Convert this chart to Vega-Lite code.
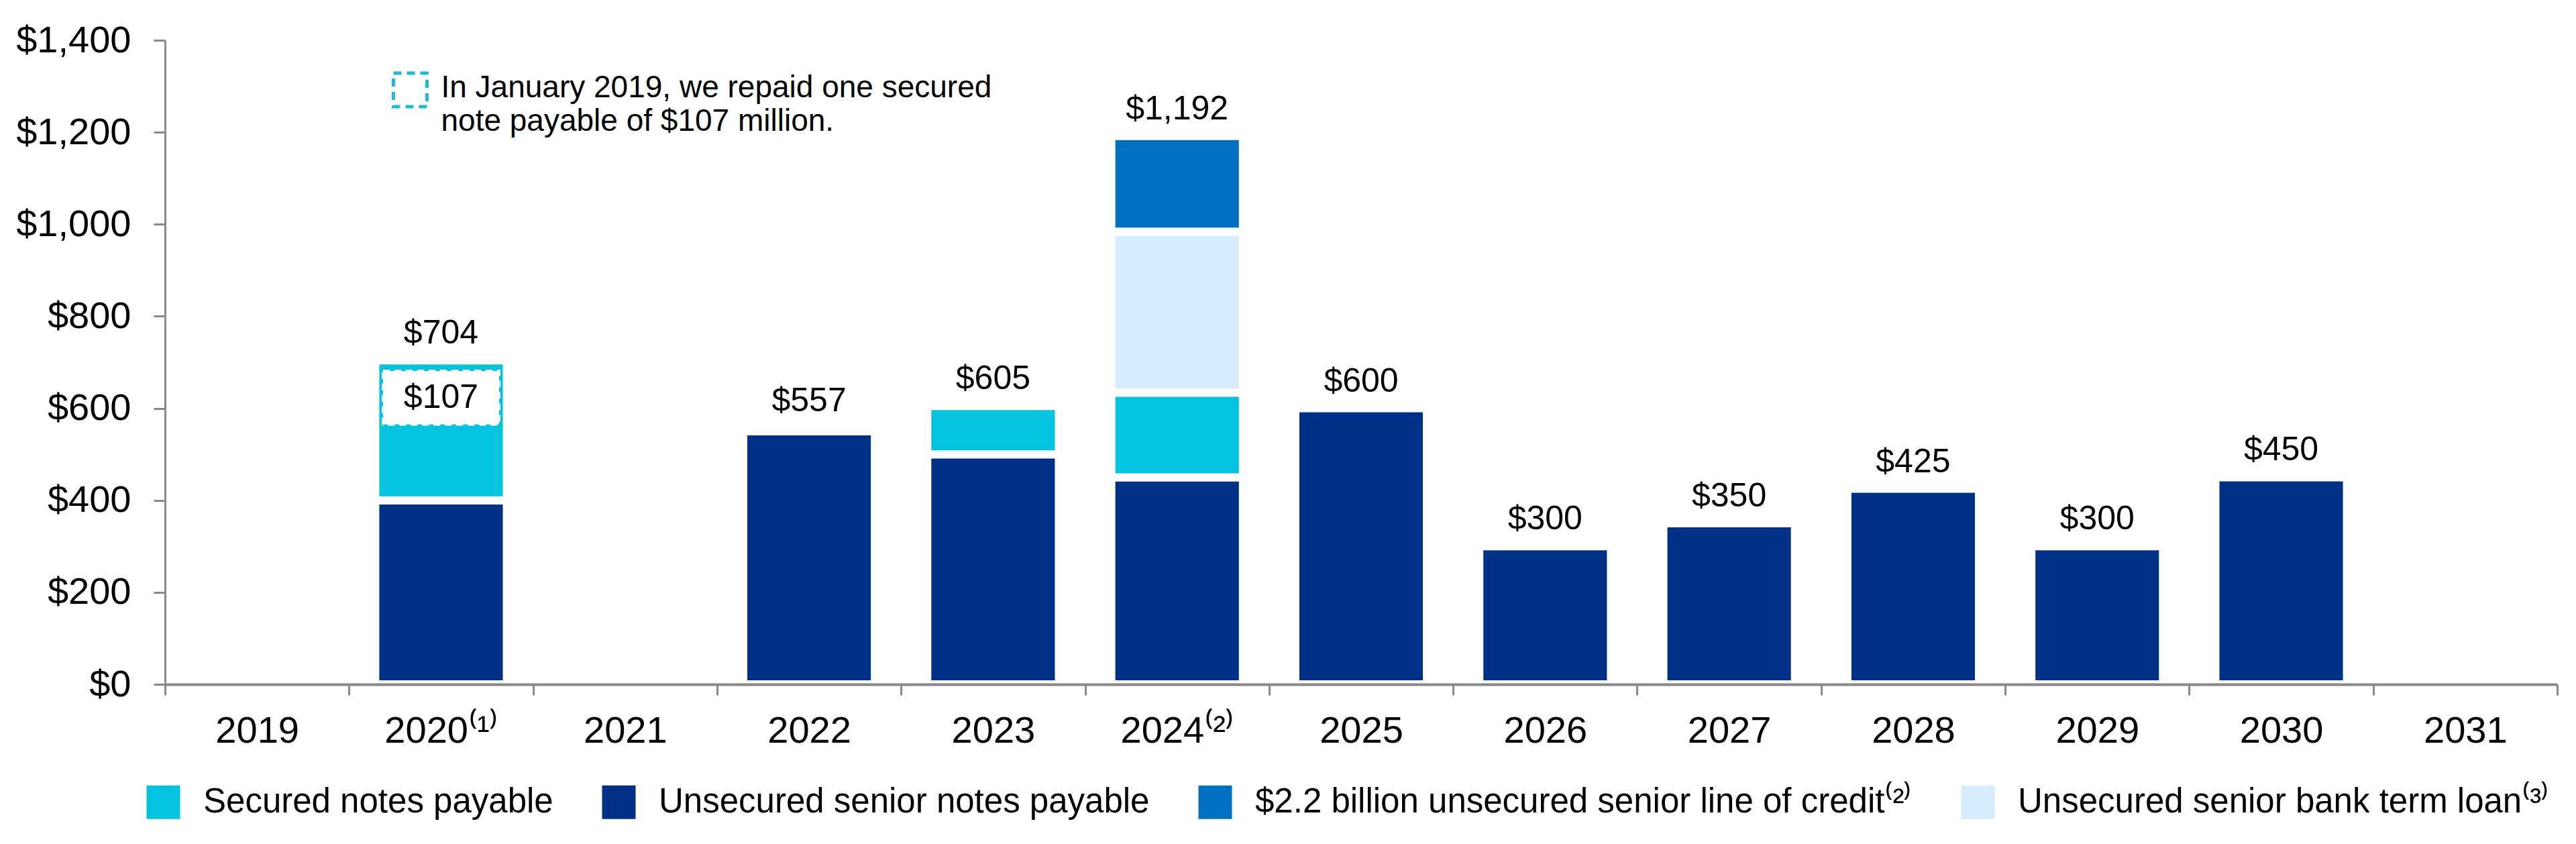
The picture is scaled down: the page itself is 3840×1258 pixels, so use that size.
{
  "$schema": "https://vega.github.io/schema/vega-lite/v6.json",
  "width": 3566,
  "height": 960,
  "autosize": {"type": "none"},
  "padding": {"left": 246, "top": 60, "right": 28, "bottom": 238},
  "background": "white",
  "config": {
    "view": {"stroke": null},
    "font": "Liberation Sans",
    "text": {"font": "Liberation Sans", "color": "#000000"},
    "axis": {"labelFont": "Liberation Sans", "labelColor": "#000000", "grid": false}
  },
  "datasets": {
    "debt": [
      {"year": "2020", "type": "Unsecured senior notes payable", "amount": 400},
      {"year": "2020", "type": "Secured notes payable", "amount": 304},
      {"year": "2022", "type": "Unsecured senior notes payable", "amount": 550},
      {"year": "2022", "type": "Secured notes payable", "amount": 7},
      {"year": "2023", "type": "Unsecured senior notes payable", "amount": 500},
      {"year": "2023", "type": "Secured notes payable", "amount": 105},
      {"year": "2024", "type": "Unsecured senior notes payable", "amount": 450},
      {"year": "2024", "type": "Secured notes payable", "amount": 184},
      {"year": "2024", "type": "Unsecured senior bank term loan", "amount": 350},
      {"year": "2024", "type": "$2.2 billion unsecured senior line of credit", "amount": 208},
      {"year": "2025", "type": "Unsecured senior notes payable", "amount": 600},
      {"year": "2026", "type": "Unsecured senior notes payable", "amount": 300},
      {"year": "2027", "type": "Unsecured senior notes payable", "amount": 350},
      {"year": "2028", "type": "Unsecured senior notes payable", "amount": 425},
      {"year": "2029", "type": "Unsecured senior notes payable", "amount": 300},
      {"year": "2030", "type": "Unsecured senior notes payable", "amount": 450}
    ],
    "callout": [
      {"year": "2020", "lo": 565, "hi": 681, "mid": 623, "label": "$107"}
    ]
  },
  "data": {"name": "debt"},
  "encoding": {
    "x": {
      "field": "year",
      "type": "nominal",
      "title": null,
      "scale": {
        "domain": ["2019", "2020", "2021", "2022", "2023", "2024", "2025", "2026", "2027", "2028", "2029", "2030", "2031"],
        "paddingInner": 0,
        "paddingOuter": 0
      },
      "axis": {
        "labelAngle": 0,
        "labelFontSize": 56,
        "labelPadding": 26,
        "labelExpr": "datum.label == '2020' ? '\u00a0\u00a0\u20092020⁽¹⁾' : datum.label == '2024' ? '\u00a0\u00a0\u20092024⁽²⁾' : datum.label",
        "tickBand": "extent",
        "tickSize": 16,
        "tickWidth": 3,
        "tickColor": "#898989",
        "domainColor": "#898989",
        "domainWidth": 4,
        "zindex": 1
      }
    }
  },
  "layer": [
    {
      "transform": [
        {"calculate": "indexof(['Unsecured senior notes payable','Secured notes payable','Unsecured senior bank term loan','$2.2 billion unsecured senior line of credit'], datum.type)", "as": "stackIndex"}
      ],
      "mark": {"type": "bar", "width": {"band": 0.715}, "stroke": "white", "strokeWidth": 12},
      "encoding": {
        "y": {
          "field": "amount",
          "type": "quantitative",
          "stack": "zero",
          "title": null,
          "scale": {"domain": [0, 1400], "nice": false},
          "axis": {
            "values": [0, 200, 400, 600, 800, 1000, 1200, 1400],
            "format": "$,.0f",
            "labelFontSize": 56,
            "labelPadding": 34,
            "tickSize": 17,
            "tickWidth": 3,
            "tickColor": "#898989",
            "domainColor": "#898989",
            "domainWidth": 3,
            "grid": false
          }
        },
        "color": {
          "field": "type",
          "type": "nominal",
          "scale": {
            "domain": ["Secured notes payable", "Unsecured senior notes payable", "$2.2 billion unsecured senior line of credit", "Unsecured senior bank term loan"],
            "range": ["#05C3DE", "#003087", "#0070C0", "#D6EBFB"]
          },
          "legend": {
            "title": null,
            "orient": "none",
            "legendX": -28,
            "legendY": 1110,
            "direction": "horizontal",
            "symbolType": "square",
            "symbolSize": 2500,
            "symbolStrokeWidth": 0,
            "labelFontSize": 51,
            "labelFont": "Liberation Sans",
            "labelColor": "#000000",
            "labelLimit": 3000,
            "labelOffset": 34,
            "columnPadding": 72,
            "labelExpr": "datum.label == '$2.2 billion unsecured senior line of credit' ? datum.label + '⁽²⁾' : datum.label == 'Unsecured senior bank term loan' ? datum.label + '⁽³⁾' : datum.label"
          }
        },
        "order": {"field": "stackIndex", "type": "quantitative", "sort": "ascending"}
      }
    },
    {
      "transform": [
        {"aggregate": [{"op": "sum", "field": "amount", "as": "total"}], "groupby": ["year"]}
      ],
      "mark": {"type": "text", "fontSize": 50, "baseline": "alphabetic", "align": "center", "dy": -25},
      "encoding": {
        "y": {"field": "total", "type": "quantitative", "title": null},
        "text": {"field": "total", "type": "quantitative", "format": "$,.0f"}
      }
    },
    {
      "data": {"name": "callout"},
      "mark": {"type": "bar", "width": {"band": 0.63}, "fill": "white", "stroke": "white", "strokeWidth": 4, "strokeDash": [10, 7]},
      "encoding": {
        "y": {"field": "lo", "type": "quantitative", "title": null},
        "y2": {"field": "hi"}
      }
    },
    {
      "data": {"name": "callout"},
      "mark": {"type": "text", "fontSize": 50, "baseline": "middle", "align": "center"},
      "encoding": {
        "y": {"field": "mid", "type": "quantitative", "title": null},
        "text": {"field": "label", "type": "nominal"}
      }
    },
    {
      "data": {"values": [{}]},
      "mark": {"type": "point", "shape": "square", "size": 2500, "filled": false, "stroke": "#21B8D6", "strokeWidth": 5, "strokeDash": [12, 8], "xOffset": -46, "opacity": 1},
      "encoding": {
        "x": {"datum": "2020"},
        "y": {"datum": 1292}
      }
    },
    {
      "data": {"values": [{}]},
      "mark": {
        "type": "text",
        "text": ["In January 2019, we repaid one secured", "note payable of $107 million."],
        "fontSize": 46,
        "lineHeight": 50,
        "align": "left",
        "baseline": "alphabetic",
        "dx": 0
      },
      "encoding": {
        "x": {"datum": "2020"},
        "y": {"datum": 1276}
      }
    }
  ]
}
